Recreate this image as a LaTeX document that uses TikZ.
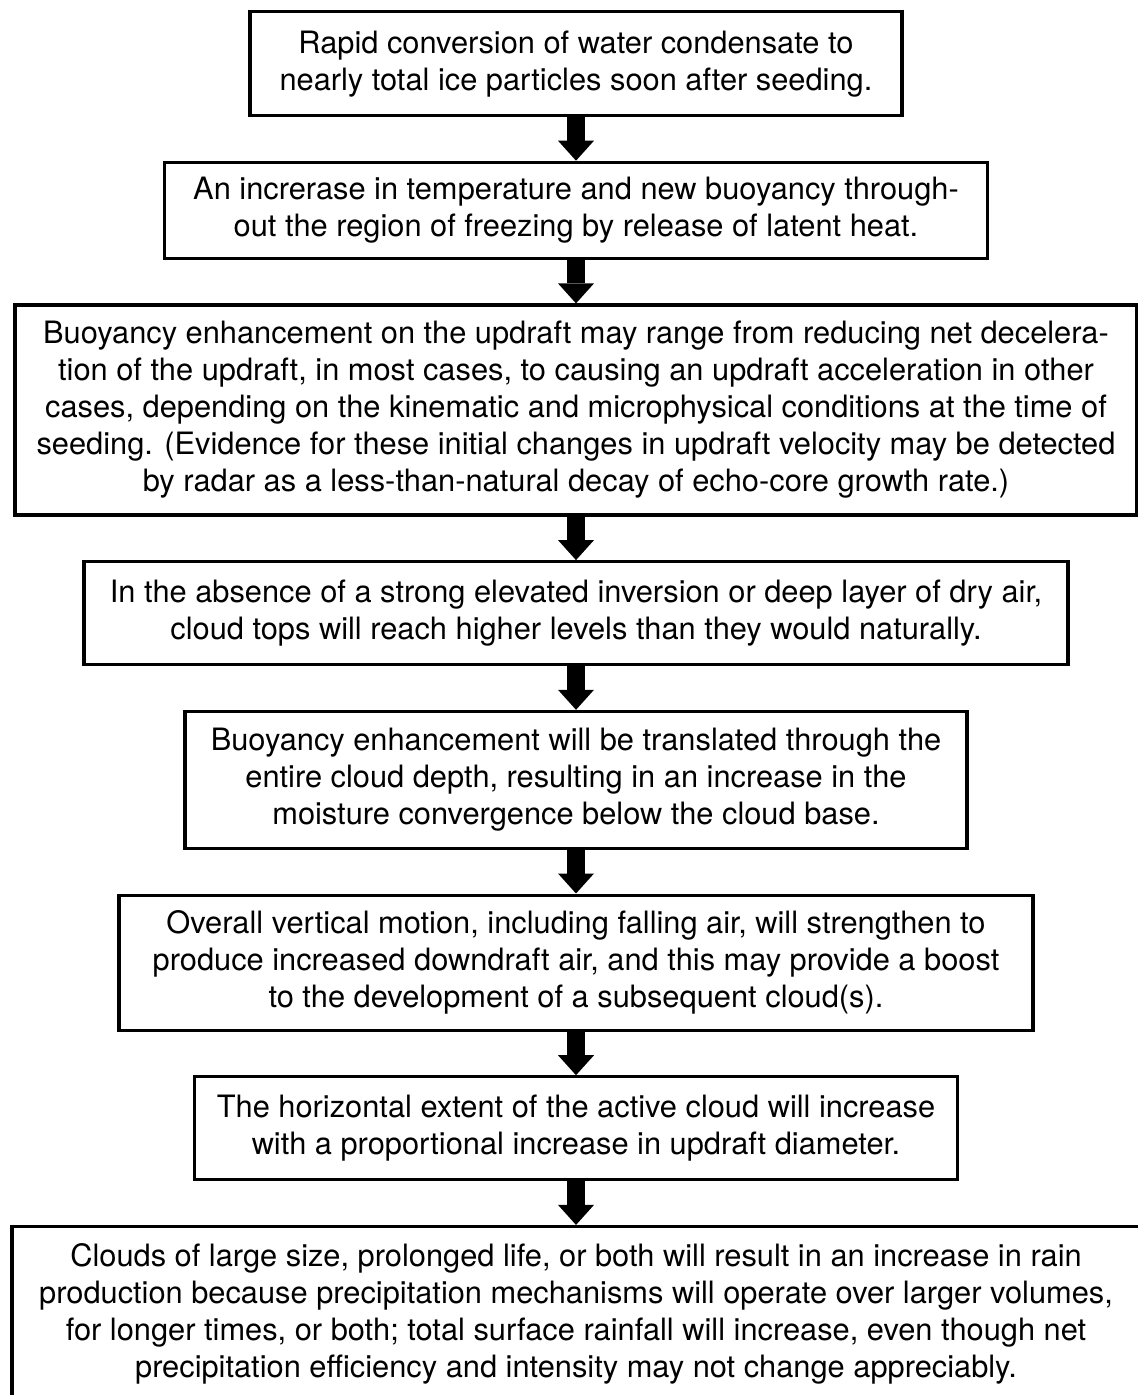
\documentclass[tikz,border=0pt]{standalone}
\usepackage{fontspec}
\setmainfont{TeX Gyre Heros}
\usetikzlibrary{positioning,arrows.meta}

\begin{document}
\begin{tikzpicture}[
		x=0.5pt, y=-0.5pt,
		node distance=21.75pt,
		every node/.style={draw, line width=1.6pt, inner xsep=0pt, inner ysep=2pt, align=center, font=\fontsize{15.4}{18.5}\selectfont},
		flow/.style={line width=9pt, -{Triangle[width=18pt,length=10pt,line width=0pt]}}
		]
		\useasboundingbox (0,0) rectangle (1138,1395);
		% Steps
		\node[anchor=north, minimum width=326pt, minimum height=52pt] (conversion) at (576,10) {Rapid conversion of water condensate to\\nearly total ice particles soon after seeding.};
		\node[below=of conversion, minimum width=411.5pt, minimum height=48pt] (warming) {An increrase in temperature and new buoyancy through-\\out the region of freezing by release of latent heat.};
		\node[below=of warming, minimum width=561pt, minimum height=105pt] (buoyancy) {Buoyancy enhancement on the updraft may range from reducing net decelera-\\tion of the updraft, in most cases, to causing an updraft acceleration in other\\cases, depending on the kinematic and microphysical conditions at the time of\\seeding. (Evidence for these initial changes in updraft velocity may be detected\\by radar as a less-than-natural decay of echo-core growth rate.)};
		\node[below=of buoyancy, minimum width=492pt, minimum height=51.5pt] (tops) {In the absence of a strong elevated inversion or deep layer of dry air,\\cloud tops will reach higher levels than they would naturally.};
		\node[below=of tops, minimum width=391pt, minimum height=68.5pt] (depth) {Buoyancy enhancement will be translated through the\\entire cloud depth, resulting in an increase in the\\moisture convergence below the cloud base.};
		\node[below=of depth, minimum width=457pt, minimum height=67.5pt] (motion) {Overall vertical motion, including falling air, will strengthen to\\produce increased downdraft air, and this may provide a boost\\to the development of a subsequent cloud(s).};
		\node[below=of motion, minimum width=381.5pt, minimum height=51.5pt] (extent) {The horizontal extent of the active cloud will increase\\with a proportional increase in updraft diameter.};
		\node[below=of extent, minimum width=564pt, minimum height=87pt] (rain) {Clouds of large size, prolonged life, or both will result in an increase in rain\\production because precipitation mechanisms will operate over larger volumes,\\for longer times, or both; total surface rainfall will increase, even though net\\precipitation efficiency and intensity may not change appreciably.};

		% Arrows
		\draw[flow] (conversion) -- (warming);
		\draw[flow] (warming) -- (buoyancy);
		\draw[flow] (buoyancy) -- (tops);
		\draw[flow] (tops) -- (depth);
		\draw[flow] (depth) -- (motion);
		\draw[flow] (motion) -- (extent);
		\draw[flow] (extent) -- (rain);
	\end{tikzpicture}
\end{document}
